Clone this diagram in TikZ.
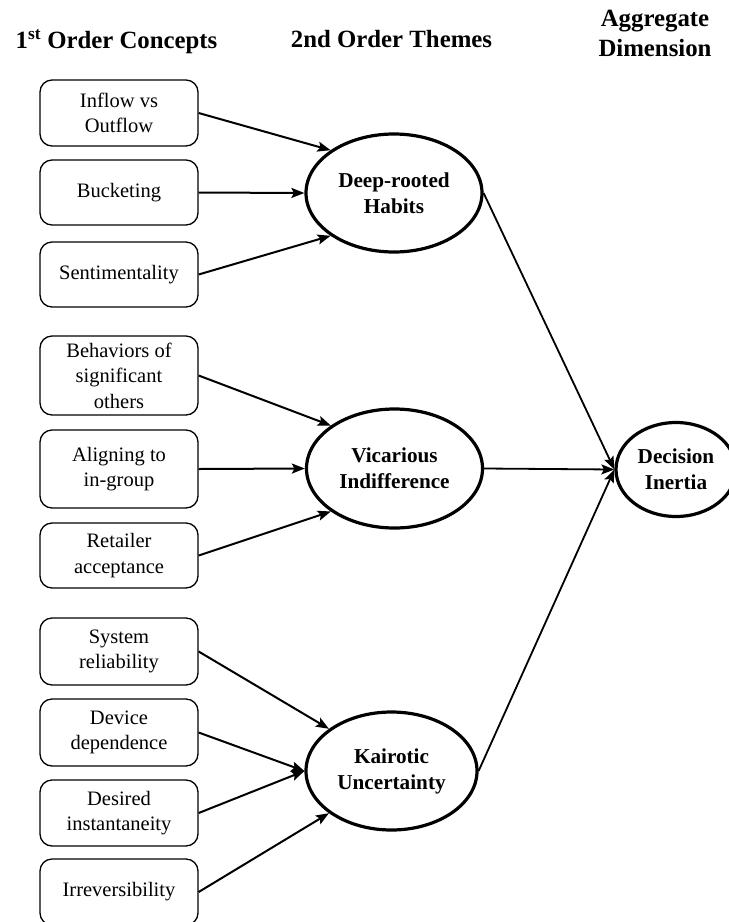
\documentclass[tikz,border=0pt]{standalone}
\usepackage{fontspec}
\setmainfont{Liberation Serif}
\usetikzlibrary{arrows.meta,shapes.geometric}
\begin{document}
\begin{tikzpicture}[x=1pt,y=1pt,
  concept/.style={draw, rounded corners=12pt, line width=1.3pt, minimum width=158pt,
    inner sep=0pt, align=center, font=\fontsize{20.5}{25.5}\selectfont},
  theme/.style={draw, ellipse, line width=3.2pt, inner sep=0pt, align=center,
    font=\bfseries\fontsize{21.2}{26}\selectfont},
  header/.style={align=center, font=\bfseries\fontsize{24.8}{30}\selectfont},
  feed/.style={line width=2pt, -{Stealth[length=13pt,width=10pt,inset=2.5pt]}},
  agg/.style={line width=1.8pt, -{Stealth[length=13pt,width=10pt,inset=2.5pt]}}
]
\useasboundingbox (0,0) rectangle (729,-922);

% headers
\node[header, anchor=base] (h1) at (116.5,-48.5) {1\textsuperscript{st} Order Concepts};
\node[header, anchor=base] (h2) at (391.5,-47.5) {2nd Order Themes};
\node[header] (h3) at (655,-33.5) {Aggregate\\Dimension};

% first order concepts
\node[concept, minimum height=66pt] (c1) at (119,-113) {Inflow vs\\Outflow};
\node[concept, minimum height=65pt] (c2) at (119,-192.5) {Bucketing};
\node[concept, minimum height=65pt] (c3) at (119,-274.5) {Sentimentality};
\node[concept, minimum height=79pt] (c4) at (119,-375.5) {Behaviors of\\significant\\others};
\node[concept, minimum height=78pt] (c5) at (119,-469) {Aligning to\\in-group};
\node[concept, minimum height=65pt] (c6) at (119,-555.5) {Retailer\\acceptance};
\node[concept, minimum height=67pt] (c7) at (119,-651.5) {System\\reliability};
\node[concept, minimum height=67pt] (c8) at (119,-732.5) {Device\\dependence};
\node[concept, minimum height=66pt] (c9) at (119,-813) {Desired\\instantaneity};
\node[concept, minimum height=66pt] (c10) at (119,-892) {Irreversibility};

% second order themes
\node[theme, minimum width=176pt, minimum height=118pt] (t1) at (394,-193) {Deep-rooted\\Habits};
\node[theme, minimum width=176pt, minimum height=119pt] (t2) at (394.5,-468.5) {Vicarious\\Indifference};
\node[theme, minimum width=171pt, minimum height=118pt] (t3) at (391.5,-771) {Kairotic\\Uncertainty};

% aggregate dimension
\node[theme, minimum width=120pt, minimum height=94pt] (d) at (676,-469.5) {Decision\\Inertia};

% connectors
\draw[feed] (c1.east) -- (t1.146);
\draw[feed] (c2.east) -- (t1.west);
\draw[feed] (c3.east) -- (t1.214);
\draw[feed] (c4.east) -- (t2.146);
\draw[feed] (c5.east) -- (t2.west);
\draw[feed] (c6.east) -- (t2.214);
\draw[feed] (c7.east) -- (t3.146);
\draw[feed] (c8.east) -- (t3.west);
\draw[feed] (c9.east) -- (t3.west);
\draw[feed] (c10.east) -- (t3.214);

\draw[agg] (t1.east) -- (d.west);
\draw[agg] (t2.east) -- (d.west);
\draw[agg] (t3.east) -- (d.west);
\end{tikzpicture}
\end{document}
